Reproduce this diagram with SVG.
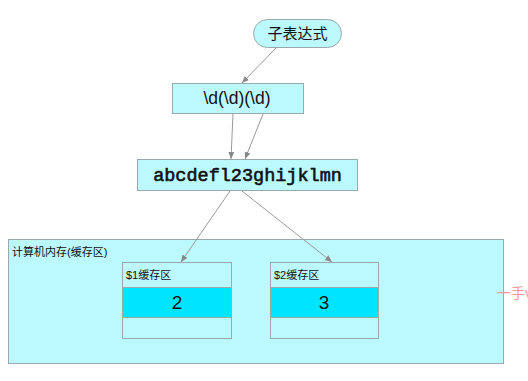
<svg xmlns="http://www.w3.org/2000/svg" width="528" height="381" viewBox="0 0 528 381">
<style>
.node{fill:#bcf9fc;stroke:#9aa9ab;stroke-width:1}
.cyan{fill:#00e5ff;stroke:#9aa9ab;stroke-width:1}
.t{font-family:"Liberation Sans","Noto Sans CJK SC",sans-serif;fill:#111}
.mono{font-family:"Liberation Mono",monospace;fill:#111;stroke:#111;stroke-width:0.6}
.edge{stroke:#999;stroke-width:1;fill:none;marker-end:url(#ah)}
.wm{font-family:"Liberation Sans","Noto Sans CJK SC",sans-serif;fill:#f99a96}
</style>
<defs>
<marker id="ah" markerWidth="8" markerHeight="8" refX="7" refY="4" orient="auto" markerUnits="userSpaceOnUse">
<path d="M0,1 L7,4 L0,7 Z" fill="#888"/>
</marker>
</defs>
<rect width="528" height="381" fill="#ffffff"/>
<g id="memory">
<rect class="node" x="8.5" y="239.5" width="495" height="124"/>
<text class="t" x="12" y="256" font-size="11">计算机内存(缓存区)</text>
</g>
<g id="buf1">
<rect class="node" x="122.5" y="262.5" width="109" height="76"/>
<rect class="cyan" x="122.5" y="287.5" width="109" height="30"/>
<text class="t" x="126" y="279" font-size="11">$1缓存区</text>
<text class="t" x="177" y="309" font-size="19" text-anchor="middle">2</text>
</g>
<g id="buf2">
<rect class="node" x="270.5" y="262.5" width="108" height="76"/>
<rect class="cyan" x="270.5" y="287.5" width="108" height="30"/>
<text class="t" x="274" y="279" font-size="11">$2缓存区</text>
<text class="t" x="324" y="309" font-size="19" text-anchor="middle">3</text>
</g>
<g id="subexpr">
<rect class="node" x="253.5" y="19.5" width="88" height="28" rx="14"/>
<text class="t" x="297.5" y="39" font-size="15" text-anchor="middle">子表达式</text>
</g>
<g id="regex">
<rect class="node" x="172.5" y="83.5" width="131" height="30"/>
<text class="t" x="237" y="104" font-size="17.5" text-anchor="middle">\d(\d)(\d)</text>
</g>
<g id="string">
<rect class="node" x="137.5" y="159.5" width="220" height="31"/>
<text class="mono" x="247.5" y="181" font-size="18.5" text-anchor="middle">abcdefl23ghijklmn</text>
</g>
<g id="connectors">
<line class="edge" x1="277" y1="47" x2="242" y2="83"/>
<line class="edge" x1="233" y1="114" x2="231" y2="159"/>
<line class="edge" x1="263" y1="114" x2="245" y2="159"/>
<line class="edge" x1="230" y1="191" x2="181" y2="262"/>
<line class="edge" x1="242" y1="191" x2="332" y2="262"/>
</g>
<text class="wm" x="497" y="298" font-size="14">一手v</text>
</svg>
